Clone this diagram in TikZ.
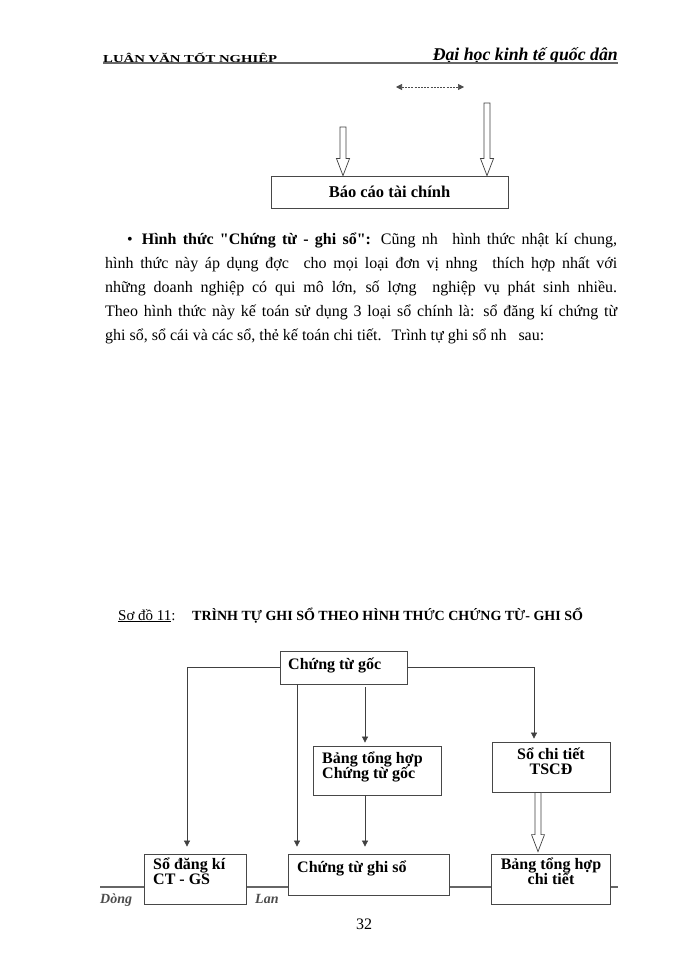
\documentclass[tikz,border=0pt]{standalone}
\usepackage{fontspec}
\setmainfont{Liberation Serif}
\usepackage{graphicx}
\usetikzlibrary{arrows.meta,calc}
\tikzset{
  boxed/.style={draw=black!72, line width=0.8pt, fill=white, rectangle, inner sep=0pt},
  conn/.style={draw=black!75, line width=0.7pt, -{Triangle[length=6pt,width=6pt]}},
  btxt/.style={font=\fontsize{16}{18}\selectfont\bfseries, inner sep=0pt, anchor=base west},
  ctxt/.style={font=\fontsize{16}{18}\selectfont\bfseries, inner sep=0pt, anchor=base},
  ptxt/.style={font=\fontsize{16}{18}\selectfont, inner sep=0pt, anchor=base west},
  hollow/.style={draw=black!75, line width=0.7pt, fill=white},
  rulel/.style={draw=black!60, line width=1.1pt},
  sig/.style={font=\fontsize{14}{16}\selectfont\bfseries\itshape, text=black!70, inner sep=0pt, anchor=base west}
}
\newcommand\hollowdn[2]{%
  \path[hollow] let \p1=#1, \p2=#2 in
  (\x1-3pt,\y1) -- (\x1-3pt,\y2+17pt) -- (\x1-6.5pt,\y2+17pt) -- (\x1,\y2)
  -- (\x1+6.5pt,\y2+17pt) -- (\x1+3pt,\y2+17pt) -- (\x1+3pt,\y1) -- cycle;}
\begin{document}
\begin{tikzpicture}[x=1pt,y=-1pt]
\useasboundingbox[fill=white] (0,0) rectangle (700,960);

% ---------- header ----------
\node[inner sep=0pt, anchor=base west] (hdrL) at (103,63) {\resizebox{174pt}{9.5pt}{\bfseries LUÂN VĂN TỐT NGHIÊP}};
\node[inner sep=0pt, anchor=base east] (hdrR) at (618,61) {\resizebox{185pt}{13pt}{\bfseries\itshape Đại học kinh tế quốc dân}};
\coordinate (hl1) at (103,63);
\coordinate (hl2) at (618,63);
\draw[rulel] (hl1) -- (hl2);

% ---------- top part ----------
\coordinate (d1) at (396,87);
\coordinate (d2) at (464,87);
\draw[draw=black!70, line width=0.7pt, dash pattern=on 2pt off 1.2pt,
  {Triangle[length=6pt,width=6pt]}-{Triangle[length=6pt,width=6pt]}] (d1) -- (d2);

\node[boxed, minimum width=237pt, minimum height=32pt] (bctc) at (389.5,192) {};
\node[ctxt, font=\fontsize{16.5}{18}\selectfont\bfseries] (bctct) at (389.5,197) {Báo cáo tài chính};
\coordinate (h1s) at (343,127);
\coordinate (h2s) at (487,103);
\hollowdn{(h1s)}{(h1s |- bctc.north)}
\hollowdn{(h2s)}{(h2s |- bctc.north)}

% ---------- paragraph ----------
\node[ptxt] (p1) at (127,244) {\makebox[490pt][s]{\textbullet\hspace{9pt}\textbf{Hình thức \textquotedbl Chứng từ - ghi sổ\textquotedbl:} Cũng nh\hspace{0.5em} hình thức nhật kí chung,}};
\node[ptxt] (p2) at (105,268) {\makebox[512pt][s]{hình thức này áp dụng đợc\hspace{0.5em} cho mọi loại đơn vị nhng\hspace{0.5em} thích hợp nhất với}};
\node[ptxt] (p3) at (105,292) {\makebox[512pt][s]{những doanh nghiệp có qui mô lớn, số lợng\hspace{0.5em} nghiệp vụ phát sinh nhiều.}};
\node[ptxt] (p4) at (105,316) {\makebox[512pt][s]{Theo hình thức này kế toán sử dụng 3 loại sổ chính là: sổ đăng kí chứng từ}};
\node[ptxt] (p5) at (105,340) {ghi sổ, sổ cái và các sổ, thẻ kế toán chi tiết.\hspace{0.3em} Trình tự ghi sổ nh\hspace{0.5em} sau:};

% ---------- title ----------
\node[inner sep=0pt, anchor=base west, font=\fontsize{15}{17}\selectfont] (t1) at (118,620) {\underline{Sơ đồ 11}:};
\node[inner sep=0pt, anchor=base west, font=\fontsize{14}{16}\selectfont\bfseries] (t2) at (192,620) {TRÌNH TỰ GHI SỔ THEO HÌNH THỨC CHỨNG TỪ- GHI SỔ};

% ---------- footer rule and signature (behind boxes) ----------
\coordinate (f1) at (100,887);
\coordinate (f2) at (618,887);
\draw[rulel] (f1) -- (f2);
\node[sig] (s1) at (100,903) {Dòng};
\node[sig] (s2) at (255,903) {Lan};

% ---------- diagram boxes ----------
\node[boxed, minimum width=127pt, minimum height=33pt] (goc) at (343.5,667.5) {};
\node[boxed, minimum width=128pt, minimum height=49pt] (bth) at (377,770.5) {};
\node[boxed, minimum width=118pt, minimum height=50pt] (tscd) at (551,767) {};
\node[boxed, minimum width=102pt, minimum height=50pt] (sodk) at (195,879) {};
\node[boxed, minimum width=161pt, minimum height=41pt] (ctgs) at (368.5,874.5) {};
\node[boxed, minimum width=119pt, minimum height=50pt] (bthct) at (550.5,879) {};

\node[btxt] (goct) at (288,669) {Chứng từ gốc};
\node[btxt] (btht1) at (322,763) {Bảng tổng hợp};
\node[btxt] (btht2) at (322,778) {Chứng từ gốc};
\node[ctxt] (tscdt1) at (551,759) {Sổ chi tiết};
\node[ctxt] (tscdt2) at (551,774) {TSCĐ};
\node[btxt] (sodkt1) at (153,869) {Sổ đăng kí};
\node[btxt] (sodkt2) at (153,884) {CT - GS};
\node[btxt] (ctgst) at (297,872) {Chứng từ ghi sổ};
\node[ctxt] (bthctt1) at (551,869) {Bảng tổng hợp};
\node[ctxt] (bthctt2) at (551,884) {chi tiết};

% ---------- connectors ----------
\draw[conn, shorten >=7pt] (goc.west) -| ([xshift=-8pt]sodk.north);
\draw[conn, shorten >=7pt] ([xshift=-46.5pt]goc.south) -- ([xshift=-46.5pt]goc.south |- ctgs.north);
\draw[conn, shorten <=3pt, shorten >=3pt] ([xshift=21.5pt]goc.south) -- ([xshift=21.5pt]goc.south |- bth.north);
\draw[conn, shorten >=7pt] ([xshift=-12pt]bth.south) -- ([xshift=-12pt]bth.south |- ctgs.north);
\draw[conn, shorten >=3pt] (goc.east) -| ([xshift=-17pt]tscd.north);
\hollowdn{([xshift=-13pt]tscd.south)}{([xshift=-13pt,yshift=2pt]tscd.south |- bthct.north)}

% ---------- page number ----------
\node[ptxt, anchor=base] (pg) at (364,929) {32};
\end{tikzpicture}
\end{document}
